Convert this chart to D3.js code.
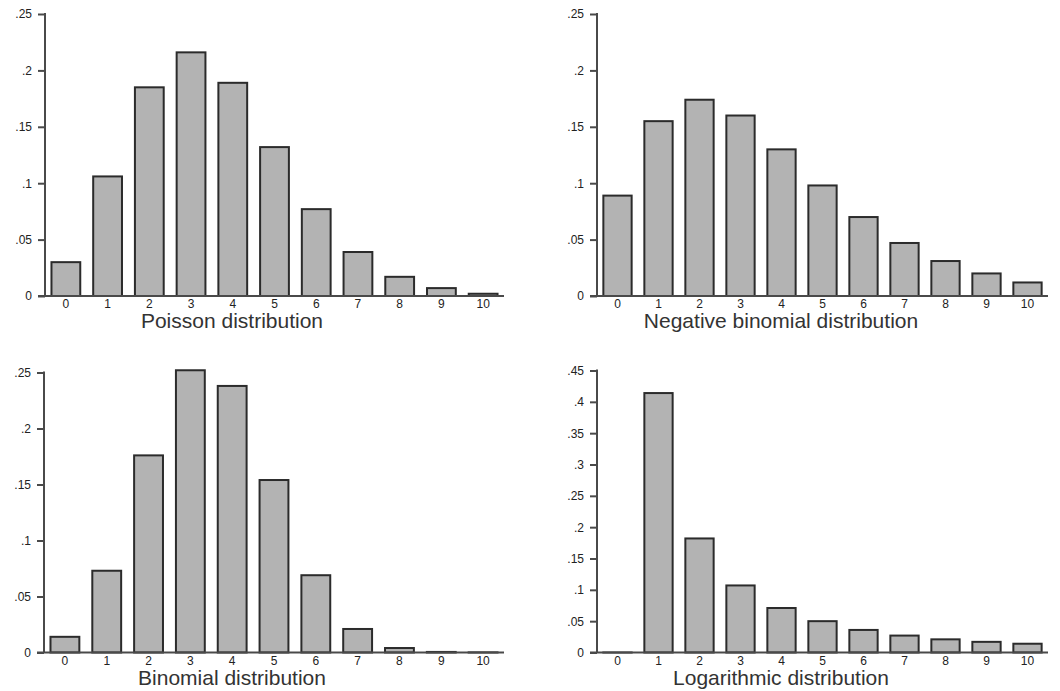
<!DOCTYPE html>
<html>
<head>
<meta charset="utf-8">
<script src="https://cdn.jsdelivr.net/npm/d3@7"></script>
<style>
  body { margin: 0; background: #fff; }
  .tick-label { font-family: "Liberation Sans", Arial, sans-serif; font-size: 12px; fill: #222; }
  .title { font-family: "Liberation Sans", Arial, sans-serif; font-size: 21px; fill: #333; }
</style>
</head>
<body>
<div id="chart"></div>
<script>
// counts 0..10
const counts = [0, 1, 2, 3, 4, 5, 6, 7, 8, 9, 10];

const poissonValues = [0.030, 0.106, 0.185, 0.216, 0.189, 0.132, 0.077, 0.039, 0.017, 0.007, 0.002];
const negBinomialValues = [0.089, 0.155, 0.174, 0.160, 0.130, 0.098, 0.070, 0.047, 0.031, 0.020, 0.012];
const binomialValues = [0.014, 0.073, 0.176, 0.252, 0.238, 0.154, 0.069, 0.021, 0.004, 0.0005, 0.0001];
const logValues = [0, 0.414, 0.182, 0.107, 0.071, 0.050, 0.036, 0.027, 0.021, 0.017, 0.014];

const yTicksSmall = [0, 0.05, 0.1, 0.15, 0.2, 0.25];
const yTicksLog = [0, 0.05, 0.1, 0.15, 0.2, 0.25, 0.3, 0.35, 0.4, 0.45];

const width = 1060;
const height = 691;

const svg = d3.select("#chart")
    .append("svg")
    .attr("width", width)
    .attr("height", height);

// stata style labels: ".25", ".1", "0"
const fmt = v => v === 0 ? "0" : d3.format(".2~f")(v).replace(/^0/, "");

const panels = [
    { values: poissonValues, ticks: yTicksSmall, max: 0.25, title: "Poisson distribution",
      x0: 45, x1: 504, yTop: 14, yZero: 296, titleX: 232, titleY: 328 },
    { values: negBinomialValues, ticks: yTicksSmall, max: 0.25, title: "Negative binomial distribution",
      x0: 597, x1: 1048, yTop: 14, yZero: 296, titleX: 781, titleY: 328 },
    { values: binomialValues, ticks: yTicksSmall, max: 0.25, title: "Binomial distribution",
      x0: 44, x1: 504, yTop: 372.5, yZero: 652.5, titleX: 232, titleY: 685 },
    { values: logValues, ticks: yTicksLog, max: 0.45, title: "Logarithmic distribution",
      x0: 597, x1: 1048, yTop: 370.5, yZero: 652.5, titleX: 781, titleY: 685 }
];

panels.forEach(p => {
    const g = svg.append("g");

    const x = d3.scaleBand()
        .domain(counts)
        .range([p.x0, p.x1])
        .paddingInner(0.31)
        .paddingOuter(0.155);

    const y = d3.scaleLinear()
        .domain([0, p.max])
        .range([p.yZero, p.yTop]);

    // bars
    g.selectAll("rect")
        .data(p.values)
        .enter().append("rect")
        .attr("x", (d, i) => x(counts[i]))
        .attr("width", x.bandwidth())
        .attr("y", d => y(d))
        .attr("height", d => Math.max(p.yZero - y(d), 0.01))
        .attr("fill", "#b3b3b3")
        .attr("stroke", "#2b2b2b")
        .attr("stroke-width", 2);

    // y axis
    const yAxis = d3.axisLeft(y)
        .tickValues(p.ticks)
        .tickFormat(fmt)
        .tickSize(7)
        .tickPadding(6);

    const ya = g.append("g")
        .attr("transform", `translate(${p.x0},0)`)
        .call(yAxis);
    ya.select(".domain").remove();
    ya.selectAll(".tick line").attr("stroke", "#4a4a4a").attr("stroke-width", 2);
    ya.selectAll(".tick text").attr("class", "tick-label").attr("font-size", null).attr("font-family", null);

    g.append("line")
        .attr("x1", p.x0).attr("x2", p.x0)
        .attr("y1", p.yTop - 1).attr("y2", p.yZero)
        .attr("stroke", "#4a4a4a")
        .attr("stroke-width", 2);

    // baseline
    g.append("line")
        .attr("x1", p.x0 - 7).attr("x2", p.x1)
        .attr("y1", p.yZero).attr("y2", p.yZero)
        .attr("stroke", "#4a4a4a")
        .attr("stroke-width", 2);

    // x labels (no tick marks)
    g.selectAll(".xlab")
        .data(counts)
        .enter().append("text")
        .attr("class", "tick-label")
        .attr("text-anchor", "middle")
        .attr("x", d => x(d) + x.bandwidth() / 2)
        .attr("y", p.yZero + 12)
        .text(d => d);

    g.append("text")
        .attr("class", "title")
        .attr("text-anchor", "middle")
        .attr("x", p.titleX)
        .attr("y", p.titleY)
        .text(p.title);
});
</script>
</body>
</html>
